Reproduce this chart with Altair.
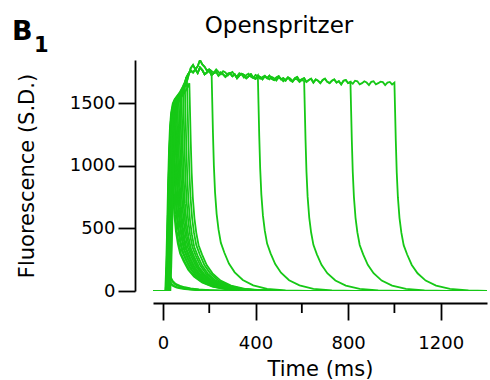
import altair as alt
import pandas as pd

GREEN = "#16c816"
FONT = "DejaVu Sans"
T_START, T_END = -43, 1400

# rising phase shared by all traces (ms after onset, value)
rise_dt = [0, 4, 8, 12, 16, 20, 25, 32, 40, 50, 62, 75, 85]
rise_v = [0, 200, 500, 850, 1120, 1300, 1420, 1495, 1530, 1555, 1585, 1630, 1670]

# decay after pulse end (ms after offset, fraction of value at offset)
decay_dt = [3, 6, 10, 15, 22, 30, 40, 55, 75, 100, 135, 180, 240, 320, 420]
decay_f = [0.86, 0.72, 0.57, 0.45, 0.35, 0.28, 0.22, 0.175, 0.125, 0.085, 0.05, 0.026, 0.01, 0.003, 0.0]

# plateau of the long pulses, sampled every 10 ms from 100 ms
plateau_A = [1700, 1735, 1760, 1745, 1770, 1740, 1785, 1765, 1730, 1745,
             1760, 1725, 1740, 1750, 1720, 1745, 1730, 1710, 1735, 1740,
             1715, 1730, 1700, 1720, 1735, 1725, 1700, 1715, 1730, 1705,
             1695, 1720, 1710, 1690, 1715, 1700, 1720, 1695, 1685, 1705,
             1715, 1690, 1700, 1680, 1705, 1695, 1675, 1700, 1710, 1680,
             1690, 1700, 1670, 1685, 1695, 1665, 1690, 1680, 1660, 1685,
             1695, 1670, 1660, 1680, 1690, 1665, 1675, 1650, 1680, 1685,
             1660, 1670, 1655, 1680, 1675, 1650, 1660, 1675, 1665, 1645,
             1670, 1675, 1650, 1660, 1672, 1668, 1645, 1665, 1670, 1650,
             1665, 1650]
plateau_B = [1650, 1720, 1780, 1805, 1770, 1795, 1845, 1810, 1790, 1760,
             1770, 1755, 1745, 1770, 1750, 1730, 1755, 1745, 1720, 1740,
             1750, 1725, 1715, 1740, 1730, 1705, 1725, 1735, 1710, 1700,
             1725, 1715, 1695, 1710, 1720, 1700, 1690, 1710, 1700, 1680,
             1705, 1695, 1675, 1690, 1705, 1680, 1670, 1695, 1690, 1670,
             1685, 1675]
plateaus = {"A": plateau_A, "B": plateau_B}

# long pulses
long_onset = [12, 18, 10, 25, 15]
long_offset = [210, 410, 610, 810, 1000]
long_plateau = ["B", "A", "B", "A", "A"]

# short pulses
short_onset = [14, 13, 16, 15, 12, 16, 14, 20, 13, 24, 17, 28, 15, 22, 30, 18, 26, 20, 32]
short_offset = [18, 19, 21, 20, 34, 38, 42, 46, 50, 54, 58, 63, 68, 74, 80, 87, 95, 104, 114]
short_peak = [150, 240, 200, 120, 1360, 1360, 1450, 1430, 1515, 1470, 1530, 1500,
              1560, 1558, 1555, 1607, 1607, 1665, 1660]

# axis ticks
y_ticks = [0, 500, 1000, 1500]
x_major = [0, 400, 800, 1200]
x_minor = [200, 600, 1000]

rows = []


def add(trace, pts):
    for i, (t, v) in enumerate(pts):
        rows.append({"trace": trace, "i": i, "t": t, "v": v})


def tail(off, peak):
    return [(off + d, peak * f) for d, f in zip(decay_dt, decay_f)] + [(T_END, 0)]


for k, (on, off, pl) in enumerate(zip(long_onset, long_offset, long_plateau)):
    pts = [(T_START, 0), (on, 0)]
    pts += [(on + d, v) for d, v in zip(rise_dt[1:], rise_v[1:]) if on + d < 100]
    pv = plateaus[pl]
    plat = [(100 + 10 * j, pv[j]) for j in range(len(pv)) if 100 + 10 * j <= off]
    pts += plat
    pts += tail(off, plat[-1][1])
    add(f"L{k}", pts)

for k, (on, off, pk) in enumerate(zip(short_onset, short_offset, short_peak)):
    pts = [(T_START, 0), (on, 0)]
    pts += [(on + d, v) for d, v in zip(rise_dt[1:], rise_v[1:]) if on + d < off]
    pts += [(off, pk)]
    pts += tail(off, pk)
    add(f"S{k}", pts)

df = pd.DataFrame(rows)

xscale = alt.Scale(domain=[T_START, T_END], nice=False, zero=False)
yscale = alt.Scale(domain=[0, 1845], nice=False)

yaxis = alt.Axis(values=y_ticks, format="d", tickSize=17, tickWidth=1.8,
                 domainWidth=1.8, domainColor="black", tickColor="black", labelColor="black",
                 labelFont=FONT, labelFontSize=18, labelPadding=3, offset=18, grid=False,
                 title="Fluorescence (S.D.)", titleFont=FONT, titleFontSize=21,
                 titleFontWeight="normal", titleColor="black", titlePadding=32)

xaxis = alt.Axis(
    values=x_major, format="d", tickSize=17,
    tickWidth=1.8, domainWidth=1.8, domainColor="black", tickColor="black",
    labelColor="black", labelFont=FONT, labelFontSize=18, labelPadding=14,
    offset=12, grid=False, title="Time (ms)", titleFont=FONT,
    titleFontSize=21, titleFontWeight="normal", titleColor="black", titlePadding=6)

lines = alt.Chart(df).mark_line(color=GREEN, strokeWidth=1.8, clip=True).encode(
    x=alt.X("t:Q", scale=xscale, axis=xaxis),
    y=alt.Y("v:Q", scale=yscale, axis=yaxis),
    detail="trace:N",
    order="i:Q",
)

minor = alt.Chart(pd.DataFrame({"t": x_minor})).mark_rule(color="black", strokeWidth=1.8).encode(
    x=alt.X("t:Q", scale=xscale, axis=xaxis),
    y=alt.value(243),
    y2=alt.value(253),
)

label_df = pd.DataFrame({"s": ["x"]})
title_text = alt.Chart(label_df).mark_text(text="Openspritzer", font=FONT, fontSize=23,
                                           align="center", baseline="alphabetic",
                                           color="black").encode(
    x=alt.value(126), y=alt.value(-27))
b_text = alt.Chart(label_df).mark_text(text="B", font=FONT, fontSize=27, fontWeight="bold",
                                       align="left", baseline="alphabetic", color="black").encode(
    x=alt.value(-141), y=alt.value(-20))
sub_text = alt.Chart(label_df).mark_text(text="1", font=FONT, fontSize=21, fontWeight="bold",
                                         align="left", baseline="alphabetic", color="black").encode(
    x=alt.value(-119), y=alt.value(-8))

chart = alt.layer(lines, minor, title_text, b_text, sub_text).properties(
    width=334, height=231,
    autosize=alt.AutoSizeParams(type="none"),
    padding={"left": 153, "top": 60, "right": 3, "bottom": 89},
).configure(background="white").configure_view(stroke=None)

chart.save("out.html", embed_options={"renderer": "svg", "actions": False})
